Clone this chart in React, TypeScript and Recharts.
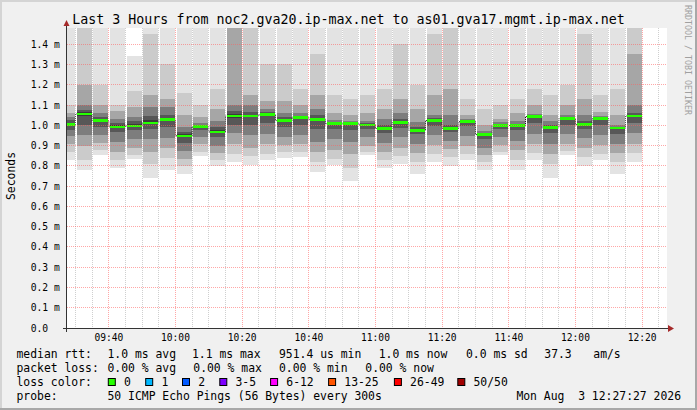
import React from "react";
import { ComposedChart, Bar, Line, XAxis, YAxis, CartesianGrid } from "recharts";

// 5 minute bins (start time), the first one is cut by the left edge of the graph
const bins = [
  "09:25", "09:30", "09:35", "09:40", "09:45", "09:50", "09:55",
  "10:00", "10:05", "10:10", "10:15", "10:20", "10:25", "10:30", "10:35", "10:40", "10:45", "10:50", "10:55",
  "11:00", "11:05", "11:10", "11:15", "11:20", "11:25", "11:30", "11:35", "11:40", "11:45", "11:50", "11:55",
  "12:00", "12:05", "12:10", "12:15",
];

// sorted ping rtt (ms) per bin: min, 10%, 20% ... max
const pMin = [0.83, 0.78, 0.855, 0.79, 0.836, 0.74, 0.78, 0.76, 0.85, 0.8, 0.82, 0.806, 0.83, 0.84, 0.845, 0.77, 0.806, 0.725, 0.852, 0.79, 0.81, 0.76, 0.82, 0.8, 0.83, 0.78, 0.852, 0.78, 0.83, 0.74, 0.852, 0.8, 0.83, 0.76, 0.82];
const p10 = [0.87, 0.83, 0.88, 0.83, 0.855, 0.81, 0.84, 0.8, 0.87, 0.83, 0.86, 0.85, 0.86, 0.87, 0.87, 0.82, 0.835, 0.79, 0.87, 0.83, 0.85, 0.82, 0.86, 0.845, 0.86, 0.82, 0.87, 0.83, 0.865, 0.81, 0.875, 0.845, 0.86, 0.82, 0.865];
const p20 = [0.91, 0.9, 0.915, 0.87, 0.89, 0.87, 0.89, 0.835, 0.91, 0.865, 0.91, 0.89, 0.91, 0.905, 0.91, 0.87, 0.88, 0.86, 0.9, 0.87, 0.89, 0.865, 0.905, 0.885, 0.9, 0.855, 0.905, 0.88, 0.91, 0.86, 0.91, 0.89, 0.905, 0.865, 0.91];
const p30 = [0.945, 0.95, 0.95, 0.92, 0.93, 0.93, 0.935, 0.875, 0.94, 0.9, 0.96, 0.95, 0.955, 0.94, 0.95, 0.92, 0.93, 0.92, 0.94, 0.915, 0.94, 0.91, 0.95, 0.925, 0.945, 0.89, 0.94, 0.925, 0.955, 0.91, 0.955, 0.935, 0.95, 0.91, 0.96];
const p40 = [0.975, 1.0, 0.99, 0.965, 0.975, 0.98, 0.99, 0.915, 0.975, 0.94, 1.0, 1.0, 1.01, 0.99, 1.0, 0.98, 0.98, 0.975, 0.98, 0.96, 0.985, 0.955, 0.995, 0.965, 0.995, 0.93, 0.98, 0.975, 1.01, 0.96, 1.0, 0.98, 1.0, 0.955, 1.01];
const p48 = [0.995, 1.045, 1.015, 0.985, 0.99, 1.005, 1.02, 0.94, 0.988, 0.96, 1.035, 1.04, 1.045, 1.015, 1.03, 1.02, 1.0, 1.0, 0.995, 0.978, 1.006, 0.968, 1.015, 0.978, 1.012, 0.948, 0.994, 0.993, 1.036, 0.982, 1.026, 0.997, 1.027, 0.98, 1.04];
const median = [1.003, 1.056, 1.023, 0.992, 0.997, 1.012, 1.028, 0.948, 0.994, 0.967, 1.046, 1.046, 1.053, 1.023, 1.038, 1.028, 1.008, 1.008, 1.002, 0.984, 1.013, 0.974, 1.023, 0.984, 1.018, 0.954, 0.999, 0.999, 1.043, 0.989, 1.033, 1.003, 1.033, 0.986, 1.046];
const p54 = [1.012, 1.065, 1.03, 1.0, 1.005, 1.025, 1.035, 0.955, 0.999, 0.975, 1.055, 1.052, 1.058, 1.03, 1.042, 1.035, 1.011, 1.011, 1.006, 0.99, 1.02, 0.979, 1.028, 0.99, 1.021, 0.958, 1.003, 1.003, 1.047, 0.993, 1.037, 1.009, 1.036, 0.99, 1.052];
const p62 = [1.025, 1.075, 1.04, 1.01, 1.02, 1.045, 1.05, 0.965, 1.003, 0.99, 1.07, 1.065, 1.065, 1.04, 1.048, 1.05, 1.015, 1.015, 1.012, 1.0, 1.03, 0.99, 1.035, 1.0, 1.024, 0.962, 1.007, 1.008, 1.05, 1.0, 1.042, 1.02, 1.038, 0.993, 1.06];
const p72 = [1.04, 1.1, 1.06, 1.03, 1.04, 1.09, 1.09, 0.99, 1.01, 1.02, 1.1, 1.1, 1.08, 1.06, 1.06, 1.08, 1.025, 1.022, 1.022, 1.03, 1.06, 1.016, 1.05, 1.05, 1.03, 0.97, 1.015, 1.02, 1.055, 1.02, 1.05, 1.05, 1.045, 1.0, 1.1];
const p82 = [1.06, 1.2, 1.1, 1.07, 1.09, 1.15, 1.13, 1.05, 1.04, 1.08, 1.55, 1.15, 1.12, 1.12, 1.1, 1.15, 1.06, 1.05, 1.06, 1.08, 1.13, 1.08, 1.15, 1.18, 1.05, 1.0, 1.03, 1.06, 1.1, 1.05, 1.1, 1.13, 1.065, 1.05, 1.35];
const p92 = [1.1, 1.55, 1.2, 1.1, 1.17, 1.45, 1.3, 1.16, 1.1, 1.18, 1.75, 1.5, 1.3, 1.3, 1.18, 1.35, 1.15, 1.13, 1.15, 1.18, 1.4, 1.2, 1.45, 1.55, 1.13, 1.08, 1.1, 1.13, 1.18, 1.15, 1.2, 1.45, 1.15, 1.18, 1.6];
const pMax = [1.6, 1.8, 1.55, 1.55, 1.34, 1.7, 1.65, 1.55, 1.55, 1.55, 1.9, 1.75, 1.75, 1.7, 1.6, 1.7, 1.6, 1.6, 1.6, 1.6, 1.7, 1.55, 1.75, 1.8, 1.6, 1.5, 1.55, 1.55, 1.6, 1.55, 1.6, 1.75, 1.6, 1.55, 1.8];

const yTicks = [0, 0.1, 0.2, 0.3, 0.4, 0.5, 0.6, 0.7, 0.8, 0.9, 1.0, 1.1, 1.2, 1.3, 1.4];
const xTicks = ["09:40", "10:00", "10:20", "10:40", "11:00", "11:20", "11:40", "12:00", "12:20"];
const lossLabels = ["0", "1", "2", "3-5", "6-12", "13-25", "26-49", "50/50"];

const lossColors = ["#26ff00", "#00b8ff", "#0059ff", "#7e00ff", "#ff00ff", "#ff5500", "#ff0000", "#a10000"];
const lossBoxX = [108.3, 145.7, 182.5, 219.8, 270.6, 328.6, 394.4, 457.8];
const smokeFill = ["#e3e3e3", "#cbcbcb", "#a6a6a6", "#7d7d7d", "#575757", "#3a3a3a", "#3a3a3a", "#575757", "#7d7d7d", "#a6a6a6", "#cbcbcb", "#e3e3e3"];

const MONO = "'DejaVu Sans Mono', monospace";
const W = 697;
const H = 410;
const BIN_PX = (600 * 5) / 180;
const GREEN_HALF = 0.006;

const toMin = (s: string) => {
  const [h, m] = s.split(":").map(Number);
  return h * 60 + m;
};
const fmtTime = (v: number) => {
  const h = Math.floor(v / 60);
  const m = Math.round(v - h * 60);
  return `${String(h).padStart(2, "0")}:${String(m).padStart(2, "0")}`;
};

// graph window 09:27:27 .. 12:27:27
const T_START = toMin("09:27") + 27 / 60;
const T_END = toMin("12:27") + 27 / 60;

const levels = [pMin, p10, p20, p30, p40, p48, median, p54, p62, p72, p82, p92, pMax];

const rows = bins.map((b, i) => {
  const row: Record<string, any> = {
    t: toMin(b) + 2.5,
    base: pMin[i],
    med: median[i],
    loss: [median[i] - GREEN_HALF, median[i] + GREEN_HALF],
  };
  for (let k = 1; k < levels.length; k++) row[`s${k}`] = levels[k][i] - levels[k - 1][i];
  return row;
});

const minorGrid: number[] = [];
for (let t = toMin("09:30"); t <= toMin("12:25"); t += 5) {
  if (t % 20 !== 0) minorGrid.push(t);
}
const majorGrid = xTicks.map(toMin);

const YTick = (props: any) => {
  const v = props.payload.value;
  const label = v === 0 ? "0.0" : `${v.toFixed(1)} m`;
  return (
    <text x={30.7} y={props.y} dominantBaseline="central" fontFamily={MONO} fontSize={9.7} fill="#000">
      {label}
    </text>
  );
};

const XTick = (props: any) => (
  <text x={props.x} y={337} textAnchor="middle" dominantBaseline="central" fontFamily={MONO} fontSize={9.6} fill="#000">
    {fmtTime(props.payload.value)}
  </text>
);

const Txt = ({ x, y, children, anchor = "start", size = 11.4 }: any) => (
  <text
    x={x}
    y={y}
    textAnchor={anchor}
    dominantBaseline="central"
    fontFamily={MONO}
    fontSize={size}
    fill="#000"
    style={{ whiteSpace: "pre" }}
  >
    {children}
  </text>
);

export default function App() {
  return (
    <div style={{ position: "absolute", left: 0, top: 0, width: W, height: H, background: "#f0f0f0", overflow: "hidden" }}>
      <style>{`
        .recharts-bar-rectangle path, .recharts-rectangle { shape-rendering: crispEdges; }
        .recharts-cartesian-grid line { shape-rendering: crispEdges; }
      `}</style>
      <div style={{ position: "absolute", left: 67, top: 28, width: 600, height: 300, background: "#fff" }} />
      <div style={{ position: "absolute", left: 0, top: 0 }}>
        <ComposedChart
          width={W}
          height={H}
          data={rows}
          margin={{ top: 28, right: 30, bottom: 62, left: 7 }}
          barGap={0}
          barCategoryGap={0}
        >
          <XAxis
            xAxisId="t"
            dataKey="t"
            type="number"
            domain={[T_START, T_END]}
            allowDataOverflow
            ticks={majorGrid}
            interval={0}
            tick={<XTick />}
            axisLine={false}
            tickLine={false}
            height={20}
          />
          <XAxis xAxisId="g" dataKey="t" type="number" domain={[T_START, T_END]} allowDataOverflow hide />
          <YAxis
            type="number"
            domain={[0, 1.48]}
            allowDataOverflow
            ticks={yTicks}
            interval={0}
            tick={<YTick />}
            axisLine={false}
            tickLine={false}
            width={60}
          />
          <Bar xAxisId="t" dataKey="base" stackId="smoke" fill="transparent" barSize={BIN_PX + 1} isAnimationActive={false} />
          {smokeFill.map((c, k) => (
            <Bar
              key={k}
              xAxisId="t"
              dataKey={`s${k + 1}`}
              stackId="smoke"
              fill={c}
              barSize={BIN_PX + 1}
              isAnimationActive={false}
            />
          ))}
          <Line
            xAxisId="t"
            type="step"
            dataKey="med"
            stroke="#111"
            strokeWidth={1}
            strokeDasharray="1 1"
            dot={false}
            activeDot={false}
            isAnimationActive={false}
            zIndex={420}
          />
          <Bar xAxisId="g" dataKey="loss" fill={lossColors[0]} barSize={BIN_PX + 1} isAnimationActive={false} zIndex={450} />
          <CartesianGrid
            xAxisId="t"
            horizontal={false}
            verticalValues={minorGrid}
            stroke="#a0a0a0"
            strokeOpacity={0.5}
            strokeDasharray="1 1"
            zIndex={500}
          />
          <CartesianGrid
            xAxisId="t"
            verticalValues={majorGrid}
            horizontalValues={yTicks.slice(1)}
            stroke="#ff5f5f"
            strokeOpacity={0.55}
            strokeDasharray="1 1"
            zIndex={510}
          />
        </ComposedChart>
      </div>
      <svg width={W} height={H} style={{ position: "absolute", left: 0, top: 0, pointerEvents: "none" }}>
        {/* frame */}
        <rect x={0} y={0} width={W} height={2} fill="#d4d4d4" />
        <rect x={0} y={0} width={2} height={H} fill="#d4d4d4" />
        <rect x={0} y={H - 2} width={W} height={2} fill="#a8a8a8" />
        <rect x={W - 2} y={0} width={2} height={H} fill="#a8a8a8" />

        {/* axes with arrows */}
        <line x1={63} y1={328.5} x2={669} y2={328.5} stroke="#333" strokeWidth={1} />
        <line x1={66.5} y1={25} x2={66.5} y2={332} stroke="#333" strokeWidth={1} />
        <polygon points="668,325 674,328.5 668,332" fill="#a52a2a" />
        <polygon points="63.5,26 66.5,20 69.5,26" fill="#a52a2a" />

        <Txt x={348.5} y={19} anchor="middle" size={13.3}>
          Last 3 Hours from noc2.gva20.ip-max.net to as01.gva17.mgmt.ip-max.net
        </Txt>
        <text
          transform="translate(11,176) rotate(-90)"
          textAnchor="middle"
          dominantBaseline="central"
          fontFamily={MONO}
          fontSize={11.4}
          fill="#000"
        >
          Seconds
        </text>
        <text
          transform="translate(687.5,5) rotate(90)"
          textAnchor="start"
          dominantBaseline="central"
          fontFamily={MONO}
          fontSize={8.3}
          fill="#a0a0a0"
        >
          RRDTOOL / TOBI OETIKER
        </text>

        {/* legend */}
        <Txt x={16.5} y={354}>median rtt:</Txt>
        <Txt x={107.5} y={354}>1.0 ms avg</Txt>
        <Txt x={192} y={354}>1.1 ms max</Txt>
        <Txt x={279} y={354}>951.4 us min</Txt>
        <Txt x={378.7} y={354}>1.0 ms now</Txt>
        <Txt x={466} y={354}>0.0 ms sd</Txt>
        <Txt x={544.3} y={354}>37.3</Txt>
        <Txt x={593.3} y={354}>am/s</Txt>

        <Txt x={16.5} y={368}>packet loss:</Txt>
        <Txt x={107.5} y={368}>0.00 % avg</Txt>
        <Txt x={193.3} y={368}>0.00 % max</Txt>
        <Txt x={279} y={368}>0.00 % min</Txt>
        <Txt x={365.3} y={368}>0.00 % now</Txt>

        <Txt x={16.5} y={382}>loss color:</Txt>
        {lossLabels.map((l, i) => (
          <g key={l}>
            <rect x={lossBoxX[i]} y={378.5} width={7} height={7} fill={lossColors[i]} stroke="#000" strokeWidth={1} />
            <Txt x={lossBoxX[i] + 15.7} y={382}>
              {l}
            </Txt>
          </g>
        ))}

        <Txt x={16.5} y={396}>probe:</Txt>
        <Txt x={107.5} y={396}>50 ICMP Echo Pings (56 Bytes) every 300s</Txt>
        <Txt x={681} y={396} anchor="end">
          {"Mon Aug  3 12:27:27 2026"}
        </Txt>
      </svg>
    </div>
  );
}
